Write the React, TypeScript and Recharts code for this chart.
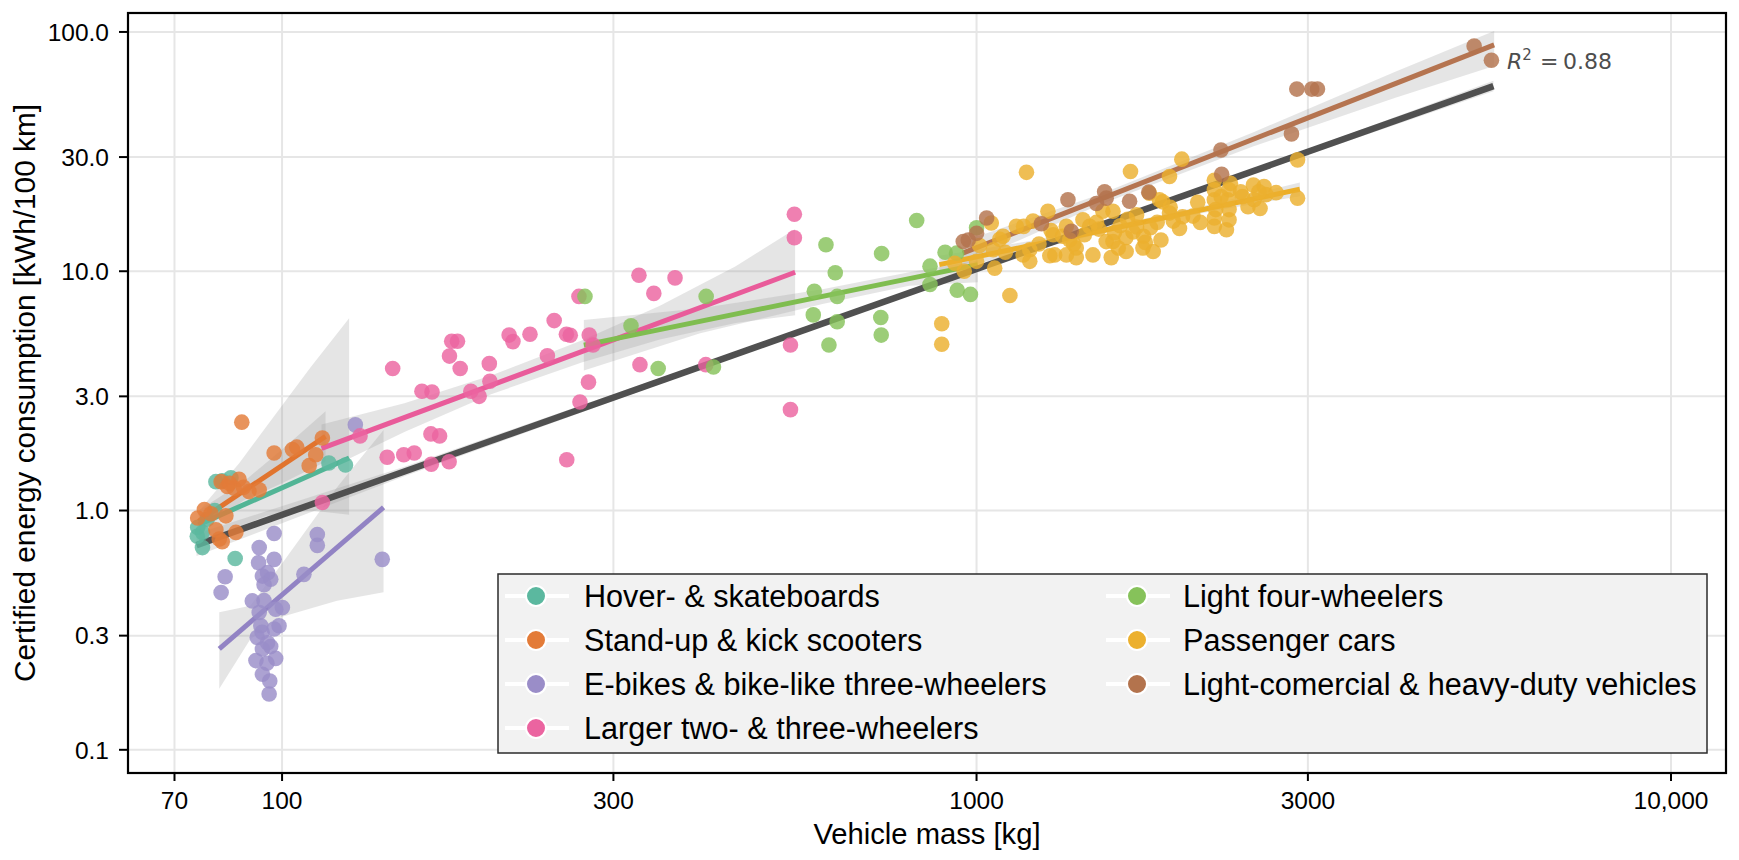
import React from "react";
import { ComposedChart, Scatter, Line, Area, XAxis, YAxis, CartesianGrid } from "recharts";

const categories = [
  "Hover- & skateboards",
  "Stand-up & kick scooters",
  "E-bikes & bike-like three-wheelers",
  "Larger two- & three-wheelers",
  "Light four-wheelers",
  "Passenger cars",
  "Light-comercial & heavy-duty vehicles",
];

const xTicks = [70, 100, 300, 1000, 3000, 10000];
const yTicks = [0.1, 0.3, 1, 3, 10, 30, 100];
const rSquared = 0.88;

// [mass kg, consumption kWh/100km]
const hoverPoints = [
  [75.6, 0.85], [76.8, 0.81], [76.8, 0.7], [75.5, 0.78], [78, 0.92], [80.3, 1.32], [82, 1.33],
  [84.4, 1.37], [85.6, 0.63], [80, 1.0], [116.8, 1.58], [123.4, 1.55],
];
const scooterPoints = [
  [75.6, 0.93], [77.3, 1.01], [79, 0.97], [80.3, 0.83], [81.2, 0.76], [82, 0.74], [83, 0.95],
  [81.7, 1.32], [83.4, 1.26], [85.3, 1.24], [86.7, 1.35], [85.8, 0.81], [89.6, 1.2], [92.7, 1.22],
  [87.5, 2.34], [97.4, 1.74], [103.5, 1.8], [105, 1.84], [109.4, 1.54], [111.8, 1.71], [114.3, 2.01],
  [84, 1.3], [88, 1.25],
];
const ebikePoints = [
  [97.4, 0.802], [112.4, 0.794], [112.4, 0.715], [92.7, 0.7], [97.4, 0.625], [92.5, 0.605],
  [82.8, 0.529], [81.7, 0.454], [93.7, 0.532], [95.3, 0.55], [96.3, 0.516], [94.2, 0.49],
  [107.5, 0.541], [139.4, 0.625], [90.6, 0.419], [94.2, 0.42], [100.1, 0.393], [92.7, 0.375],
  [97.9, 0.387], [93.2, 0.33], [99, 0.33], [97.4, 0.32], [93.6, 0.31], [92.1, 0.295], [95.3, 0.28],
  [93.7, 0.264], [96.3, 0.27], [91.7, 0.236], [97.9, 0.241], [95.1, 0.23], [93.7, 0.207],
  [96, 0.194], [95.8, 0.171], [127.5, 2.28],
];
const largerPoints = [
  [546.6, 17.3], [546.6, 13.8], [326.5, 9.62], [368, 9.38], [343, 8.08], [267.6, 7.85], [246.5, 6.22],
  [227.5, 5.45], [212.3, 5.41], [215, 5.08], [256.7, 5.45], [260, 5.4], [276.9, 5.41], [280.4, 4.92],
  [175.5, 5.1], [178.9, 5.1], [174.2, 4.42], [180.5, 3.92], [198.8, 4.11], [144.3, 3.92], [241, 4.43],
  [159, 3.15], [164.4, 3.13], [187, 3.15], [192.2, 3.0], [199.2, 3.47], [327.6, 4.07], [407.5, 4.07],
  [276.2, 3.44], [268.5, 2.84], [539.6, 4.92], [539.6, 2.64], [163.8, 2.09], [168.6, 2.05],
  [129.5, 2.05], [141.7, 1.67], [149.7, 1.71], [155, 1.74], [174, 1.6], [164, 1.56], [257, 1.63],
  [114.3, 1.08],
];
const lightFourPoints = [
  [273, 7.85], [318, 5.92], [348, 3.92], [408, 7.85], [418, 3.98], [584, 8.24], [582, 6.57],
  [607, 12.9], [626, 9.85], [630, 7.85], [630, 6.15], [613, 4.92], [730, 11.85], [728, 6.41],
  [729, 5.41], [820, 16.3], [857, 10.5], [901, 12.0], [936, 11.9], [857, 8.8], [938, 8.33],
  [980, 8.0], [1000, 15.2],
];
const carPoints = [
  [891, 6.03], [891, 4.95], [1117, 7.92], [1180, 25.9], [1666, 26.1], [1975, 29.4], [1896, 24.9],
  [2899, 29.2], [2899, 20.2], [1062, 10.3], [1050, 15.9], [1141, 15.4], [1169, 15.4], [1206, 16.2],
  [1267, 17.8], [1289, 14.2], [1193, 12.3], [1193, 11.0], [1167, 11.7], [1296, 11.7], [1392, 12.5],
  [1392, 11.4], [1471, 11.7], [1563, 11.4], [1423, 16.4], [1347, 15.4], [1520, 17.8], [1572, 17.8],
  [1537, 13.3], [1572, 13.3], [1580, 14.5], [1610, 15.5], [1640, 13.8], [1680, 14.6], [1700, 15.3],
  [1740, 14.0], [1780, 15.2], [1820, 16.0], [1642, 12.1], [1736, 12.5], [1796, 12.1], [1843, 13.5],
  [1853, 19.5], [1774, 21.2], [1834, 19.9], [1896, 17.5], [1920, 16.2], [1980, 16.9], [1960, 15.1],
  [2082, 19.4], [2200, 24.0], [2200, 21.9], [2200, 19.9], [2210, 18.1], [2200, 16.7], [2200, 15.4],
  [2290, 14.9], [2310, 16.4], [2310, 18.1], [2300, 19.9], [2310, 21.9], [2320, 23.3], [2415, 20.5],
  [2460, 18.6], [2510, 19.9], [2560, 18.3], [2610, 20.9], [2594, 22.6], [2504, 22.9], [1455, 15.4],
  [1488, 16.0], [1362, 13.5], [1092, 14.0], [1080, 13.6], [1057, 12.3], [1275, 11.6], [1347, 11.7],
  [1000, 11.0], [960, 10.0], [930, 10.8], [1010, 12.8], [1100, 12.0], [1230, 13.0], [1430, 14.2],
  [1500, 15.0], [1700, 17.2], [1650, 16.5], [1900, 18.5], [2050, 17.0], [2100, 16.0], [2250, 20.5],
  [2400, 21.5], [2700, 21.3], [2550, 21.5], [1600, 12.5], [1750, 13.2], [1280, 14.8], [1330, 14.0],
  [1380, 13.0],
];
const heavyPoints = [
  [1034, 16.7], [957, 13.3], [973, 13.5], [1000, 14.4], [1354, 19.9], [1529, 21.5], [1537, 20.2],
  [1488, 19.2], [1240, 15.8], [1369, 14.7], [1661, 19.6], [1770, 21.4], [2249, 32.1], [2254, 25.4],
  [2841, 37.5], [2892, 57.7], [3039, 57.7], [3097, 57.7], [5206, 87.4], [5513, 76.2],
];

// regression fits [mass, value] at the ends of each group's range
const hoverFit = [[75.8, 0.872], [124.9, 1.658]];
const scooterFit = [[75.8, 0.902], [115.5, 2.04]];
const ebikeFit = [[81.2, 0.264], [140, 1.03]];
const largerFit = [[114, 1.82], [548, 9.9]];
const lightFourFit = [[272, 4.91], [1004, 10.66]];
const carFit = [[884, 10.66], [2921, 22.0]];
const heavyFit = [[955, 11.9], [5563, 88.3]];
const overallFit = [[75.3, 0.717], [5550, 59.4]];

// confidence bands [mass, low, high]
const hoverBand = [[76, 0.7, 1.0], [86.8, 0.86, 1.58], [95, 0.95, 2.25], [110, 1.0, 3.98], [124.9, 0.96, 6.36]];
const scooterBand = [[75.8, 0.8, 1.0], [88, 1.1, 1.32], [100, 1.3, 1.8], [115.5, 1.6, 2.6]];
const ebikeBand = [[81.2, 0.18, 0.376], [90, 0.29, 0.4], [100, 0.36, 0.6], [120, 0.42, 1.25], [140, 0.455, 2.17]];
const largerBand = [[114, 1.45, 2.29], [150, 2.13, 2.81], [200, 3.06, 3.67], [270, 4.16, 5.13], [350, 5.19, 7.17], [450, 6.07, 10.5], [548, 6.55, 15.0]];
const lightFourBand = [[272, 3.85, 6.26], [400, 5.5, 7.0], [600, 7.3, 8.4], [800, 8.7, 9.9], [1004, 9.0, 11.1]];
const carBand = [[884, 9.8, 11.6], [1200, 12.25, 13.4], [1600, 14.9, 15.7], [2200, 17.9, 19.2], [2921, 20.6, 23.5]];
const heavyBand = [[955, 10.6, 13.3], [1500, 18.9, 20.9], [2500, 33.2, 38.0], [4000, 53, 68], [5563, 72, 101]];
const overallBand = [[75.3, 0.645, 0.8], [150, 1.391, 1.524], [400, 3.88, 4.1], [1200, 12.02, 12.58], [3000, 30.65, 32.38], [5550, 56.5, 62.5]];

const colors = ["#5bb89f", "#e37b38", "#9a8dc8", "#eb64a0", "#86c25a", "#ecb02e", "#b3734d"];
const lineColors = ["#52b596", "#e1742e", "#9283c4", "#e95b9a", "#7fbd4f", "#ecae27", "#b57450"];

const groupPoints = [hoverPoints, scooterPoints, ebikePoints, largerPoints, lightFourPoints, carPoints, heavyPoints];
const groupFits = [hoverFit, scooterFit, ebikeFit, largerFit, lightFourFit, carFit, heavyFit];
const groupBands = [hoverBand, scooterBand, ebikeBand, largerBand, lightFourBand, carBand, heavyBand, overallBand];

const FONT = "'Liberation Sans', Arial, Helvetica, sans-serif";

const toXY = (arr: number[][]) => arr.map(([x, y]) => ({ x, y }));
const toBand = (arr: number[][]) => arr.map(([x, lo, hi]) => ({ x, band: [lo, hi] }));

const fmtX = (v: number) => (v >= 10000 ? v.toLocaleString("en-US") : String(v));
const fmtY = (v: number) => v.toFixed(1);

const makeDot = (color: string) => (props: any) => {
  const { cx, cy } = props;
  if (cx == null || cy == null) return <g />;
  return <circle cx={cx} cy={cy} r={7.8} fill={color} fillOpacity={0.82} stroke="none" />;
};

export default function App() {
  return (
    <div style={{ position: "absolute", left: 0, top: 0, width: 1739, height: 860, background: "#fff" }}>
      <ComposedChart width={1739} height={860} margin={{ top: 13, right: 13, bottom: 37, left: 28 }}>
        <CartesianGrid stroke="#e6e6e6" strokeWidth={2} />
        <XAxis
          type="number"
          dataKey="x"
          scale="log"
          domain={[60, 12000]}
          allowDataOverflow
          ticks={xTicks}
          tickFormatter={fmtX}
          height={50}
          axisLine={false}
          tickLine={{ stroke: "#000", strokeWidth: 2 }}
          tickSize={8}
          tickMargin={11}
          tick={{ fill: "#000", fontSize: 24.5, fontFamily: FONT }}
          interval={0}
        />
        <YAxis
          type="number"
          dataKey="y"
          scale="log"
          domain={[0.08, 120]}
          allowDataOverflow
          ticks={yTicks}
          tickFormatter={fmtY}
          width={100}
          axisLine={false}
          tickLine={{ stroke: "#000", strokeWidth: 2 }}
          tickSize={9}
          tickMargin={10}
          tick={{ fill: "#000", fontSize: 24.5, fontFamily: FONT }}
          interval={0}
        />
        {groupPoints.map((pts, i) => (
          <Scatter
            key={"s" + i}
            name={categories[i]}
            data={toXY(pts)}
            fill={colors[i]}
            shape={makeDot(colors[i])}
            isAnimationActive={false}
          />
        ))}
        {groupBands.map((b, i) => (
          <Area
            key={"b" + i}
            data={toBand(b)}
            dataKey="band"
            type="linear"
            stroke="none"
            fill="#9a9a9a"
            fillOpacity={0.26}
            isAnimationActive={false}
            dot={false}
            activeDot={false}
          />
        ))}
        {groupFits.map((f, i) => (
          <Line
            key={"l" + i}
            data={toXY(f)}
            dataKey="y"
            type="linear"
            stroke={lineColors[i]}
            strokeWidth={5}
            strokeLinecap="butt"
            dot={false}
            activeDot={false}
            isAnimationActive={false}
          />
        ))}
        <Line
          data={toXY(overallFit)}
          dataKey="y"
          type="linear"
          stroke="#505050"
          strokeWidth={6.5}
          strokeLinecap="butt"
          dot={false}
          activeDot={false}
          isAnimationActive={false}
        />
      </ComposedChart>
      <svg
        width={1739}
        height={860}
        style={{ position: "absolute", left: 0, top: 0, pointerEvents: "none" }}
      >
        <rect x={128} y={13} width={1598} height={760} fill="none" stroke="#000" strokeWidth={2.2} />
        <text x={927} y={844} textAnchor="middle" fontFamily={FONT} fontSize={29.2} fill="#000">
          Vehicle mass [kg]
        </text>
        <text
          x={0}
          y={0}
          transform="translate(34.5,393) rotate(-90)"
          textAnchor="middle"
          fontFamily={FONT}
          fontSize={29.8}
          fill="#000"
        >
          Certified energy consumption [kWh/100 km]
        </text>
        <text x={1507} y={69} fontFamily="'DejaVu Sans', sans-serif" fontSize={22} fill="#4d4d4d">
          <tspan fontStyle="italic">R</tspan>
          <tspan dy={-9} fontSize={15}>2</tspan>
          <tspan x={1540} dy={9}>=</tspan>
          <tspan x={1563}>{rSquared.toFixed(2)}</tspan>
        </text>
        <rect x={498} y={574} width={1209} height={179} fill="#f2f2f2" stroke="#2b2b2b" strokeWidth={1.5} />
        {categories.map((c, i) => {
          const col = i < 4 ? 0 : 1;
          const row = i < 4 ? i : i - 4;
          const mx = col === 0 ? 536 : 1137;
          const tx = col === 0 ? 584 : 1183;
          const cy = 596 + row * 44;
          return (
            <g key={c}>
              <line x1={mx - 31} x2={mx + 33} y1={cy} y2={cy} stroke="#fff" strokeWidth={4} />
              <circle cx={mx} cy={cy} r={10} fill={colors[i]} stroke="#fff" strokeWidth={2} />
              <text x={tx} y={cy} dy="0.35em" fontFamily={FONT} fontSize={30.6} fill="#000">
                {c}
              </text>
            </g>
          );
        })}
      </svg>
    </div>
  );
}
